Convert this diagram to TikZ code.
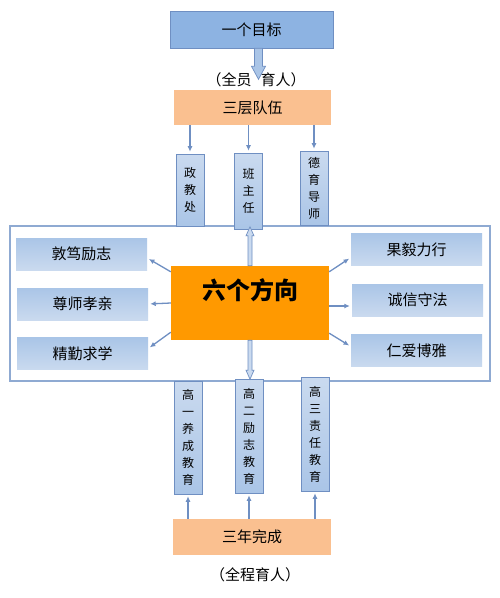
\documentclass[tikz,border=0pt]{standalone}
\usepackage{fontspec}
\setmainfont{Noto Sans CJK SC}
\usetikzlibrary{arrows.meta}
\definecolor{goalblue}{HTML}{8DB3E2}
\definecolor{edgeblue}{HTML}{6F8FC2}
\definecolor{paleblue}{HTML}{CADAEF}
\definecolor{midblue}{HTML}{AAC5E7}
\definecolor{teamorange}{HTML}{FAC090}
\definecolor{sixorange}{HTML}{FF9900}
\definecolor{frameblue}{HTML}{8FAAD2}

\begin{document}
\begin{tikzpicture}[x=1pt,y=-1pt]
\tikzstyle{goalbox} = [
  shape=rectangle,
  inner sep=0pt,
  fill=goalblue,
  draw=edgeblue, line width=0.6pt,
  font=\fontsize{15}{18}\selectfont
]
\tikzstyle{teambox} = [
  shape=rectangle,
  inner sep=0pt,
  fill=teamorange,
  font=\fontsize{15}{18}\selectfont
]
\tikzstyle{sidebox} = [
  shape=rectangle,
  minimum width=131pt, minimum height=32pt,
  inner sep=0pt,
  top color=midblue, bottom color=paleblue,
  font=\fontsize{15}{18}\selectfont
]
\tikzstyle{tallbox} = [
  shape=rectangle,
  minimum width=28pt,
  inner sep=0pt,
  top color=paleblue, bottom color=midblue,
  draw=edgeblue, line width=0.6pt,
  align=center,
  font=\fontsize{12}{17}\selectfont
]
\tikzstyle{tedge} = [
  draw = edgeblue, line width=1.3pt,
  -{Latex[length=5.5pt,width=5pt]}, shorten >=2pt
]
\tikzstyle{blockarrow} = [
  fill = paleblue,
  draw = edgeblue, line width=0.7pt
]

\fill[white] (0,0) rectangle (500,598);

\node [goalbox, minimum width=163pt, minimum height=37pt] (goal) at (251.5,29.5) {一个目标};
\node [font=\fontsize{15}{18}\selectfont] (allstaff) at (256,80) {（全员\hspace{9pt}育人）};
\node [teambox, minimum width=157pt, minimum height=35pt] (team) at (252.5,107.5) {三层队伍};

\draw [blockarrow, fill=midblue] ([xshift=3pt]goal.south) -- ++(0,18) -- ++(-3,0) -- ++(7,13) -- ++(7,-13) -- ++(-3,0) -- ++(0,-18) -- cycle;

\node [draw=frameblue, line width=1.2pt, minimum width=480pt, minimum height=155pt, inner sep=0pt] (frame) at (250,303.5) {};

\node [tallbox, minimum height=72pt] (office) at (190,190) {政\\教\\处};
\node [tallbox, minimum height=76pt] (headteacher) at (248.5,191) {班\\主\\任};
\node [tallbox, minimum height=74pt] (mentor) at (314,188) {德\\育\\导\\师};

\node [fill=sixorange, minimum width=158pt, minimum height=74pt, inner sep=0pt,
  text height=21pt, text depth=29pt, font=\fontsize{24}{28}\selectfont\bfseries] (six) at (250,303) {六个方向};

\node [sidebox] (resolve) at (81.5,254) {敦笃励志};
\node [sidebox] (respect) at (82.5,304) {尊师孝亲};
\node [sidebox] (study) at (82.5,353.5) {精勤求学};
\node [sidebox] (decisive) at (416.5,249.5) {果毅力行};
\node [sidebox] (honest) at (417.5,300) {诚信守法};
\node [sidebox] (kind) at (416.5,350.5) {仁爱博雅};

\node [tallbox, minimum height=113pt] (grade1) at (188,437.5) {高\\一\\养\\成\\教\\育};
\node [tallbox, minimum height=114pt] (grade2) at (249,436) {高\\二\\励\\志\\教\\育};
\node [tallbox, minimum height=114pt] (grade3) at (315,434) {高\\三\\责\\任\\教\\育};

\node [teambox, minimum width=158pt, minimum height=36pt] (years) at (252,537) {三年完成};
\node [font=\fontsize{15}{18}\selectfont] (alltime) at (255,575) {（全程育人）};

\draw[tedge] (office |- team.south) -- (office.north);
\draw[tedge] (headteacher |- team.south) -- (headteacher.north);
\draw[tedge] (mentor |- team.south) -- (mentor.north);

\draw[tedge] ([yshift=-6pt]six.north west) -- ([yshift=-4pt]resolve.east);
\draw[tedge] (six.west) -- (respect.east);
\draw[tedge] ([yshift=8pt]six.south west) -- ([yshift=5pt]study.east);
\draw[tedge] ([yshift=-6pt]six.north east) -- ([yshift=-8pt]decisive.west);
\draw[tedge] ([yshift=-3pt]six.east) -- ([yshift=-6pt]honest.west);
\draw[tedge] ([yshift=7pt]six.south east) -- ([yshift=4pt]kind.west);

\draw[blockarrow] ([xshift=-2pt]six.north) -- ++(0,-30) -- ++(-2,0) -- ++(4,-9) -- ++(4,9) -- ++(-2,0) -- ++(0,30) -- cycle;
\draw[blockarrow] ([xshift=-2pt]six.south) -- ++(0,30) -- ++(-2,0) -- ++(4,9) -- ++(4,-9) -- ++(-2,0) -- ++(0,-30) -- cycle;

\draw[tedge] (grade1 |- years.north) -- (grade1.south);
\draw[tedge] (grade2 |- years.north) -- (grade2.south);
\draw[tedge] (grade3 |- years.north) -- (grade3.south);

\end{tikzpicture}
\end{document}
